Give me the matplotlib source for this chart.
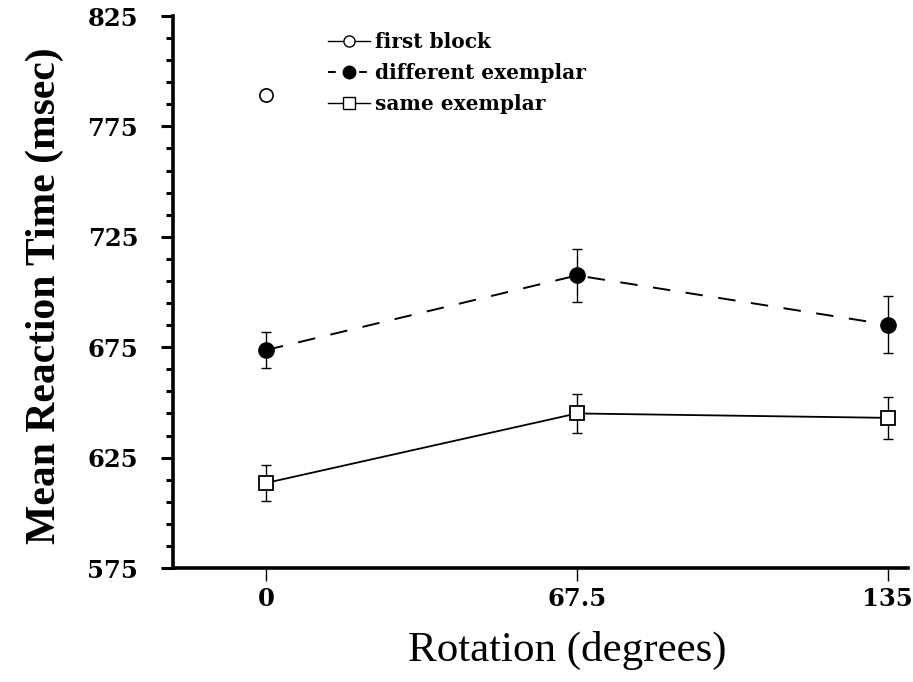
import matplotlib
matplotlib.use("Agg")
import matplotlib.pyplot as plt
from matplotlib.lines import Line2D
import numpy as np

# Data
rotation = [0, 67.5, 135]
first_block_x = [0]
first_block_y = [789]
different_y = [673.7, 707.5, 685.2]
different_err = [8.0, 12.0, 13.0]
same_y = [613.5, 645.0, 643.0]
same_err = [8.0, 8.7, 9.6]
xtick_labels = ["0", "67.5", "135"]
yticks = [575, 625, 675, 725, 775, 825]

serif = ["Liberation Serif", "DejaVu Serif"]
wide_serif = ["DejaVu Serif"]

fig = plt.figure(figsize=(9.13, 6.82), dpi=100)
ax = fig.add_axes([173/913, 1-568/682, (908-173)/913, (568-16)/682])

# same exemplar
ax.errorbar(rotation, same_y, yerr=same_err, fmt='none', ecolor='black',
            elinewidth=1.0, capsize=3.5, capthick=1.0, zorder=2)
ax.plot(rotation, same_y, color='black', lw=1.3, marker='s', markersize=9.5,
        markerfacecolor='white', markeredgecolor='black', markeredgewidth=1.3, zorder=3)

# different exemplar
ax.errorbar(rotation, different_y, yerr=different_err, fmt='none', ecolor='black',
            elinewidth=1.0, capsize=3.5, capthick=1.0, zorder=2)
ax.plot(rotation, different_y, color='black', lw=1.4, dashes=(9, 8), marker='o',
        markersize=11, markerfacecolor='black', markeredgecolor='black', zorder=3)

# first block
ax.plot(first_block_x, first_block_y, linestyle='none', marker='o', markersize=9.5,
        markerfacecolor='white', markeredgecolor='black', markeredgewidth=1.2, zorder=3)

ax.set_xlim(-20.2, 139.4)
ax.set_ylim(575, 825)

for s in ['top', 'right']:
    ax.spines[s].set_visible(False)
for s in ['left', 'bottom']:
    ax.spines[s].set_linewidth(2.6)

ax.set_xticks(rotation)
ax.set_xticklabels(xtick_labels)
ax.set_yticks(yticks)
ax.set_yticks(np.arange(585, 825, 10), minor=True)
ax.tick_params(axis='y', which='major', direction='out', length=9, width=2.2, pad=16)
ax.tick_params(axis='y', which='minor', direction='out', length=5, width=2.2)
ax.tick_params(axis='x', which='major', direction='out', length=9, width=1.0, pad=5)
for lab in ax.get_xticklabels() + ax.get_yticklabels():
    lab.set_fontfamily(wide_serif)
    lab.set_fontweight('bold')
    lab.set_fontsize(17.5)

fig.text(567/913, 1-650/682, "Rotation (degrees)", ha='center', va='center',
         fontsize=31, family=serif)
fig.text(45/913, 1-296/682, "Mean Reaction Time (msec)", ha='center', va='center',
         rotation=90, fontsize=30, fontweight='bold', family=serif)

handles = [
    Line2D([], [], color='black', lw=1.0, marker='o', markersize=8,
           markerfacecolor='white', markeredgecolor='black'),
    Line2D([], [], color='black', lw=1.4, dashes=(4, 4), marker='o', markersize=9,
           markerfacecolor='black', markeredgecolor='black'),
    Line2D([], [], color='black', lw=1.0, marker='s', markersize=8,
           markerfacecolor='white', markeredgecolor='black'),
]
labels = ["first block", "different exemplar", "same exemplar"]
ax.legend(handles, labels, loc='upper left', bbox_to_anchor=(0.197, 0.99),
          frameon=False, borderpad=0, handlelength=2.1, handletextpad=0.25,
          labelspacing=0.55, prop={'family': wide_serif, 'weight': 'bold', 'size': 14.5})

fig.savefig("out.png", dpi=100)
